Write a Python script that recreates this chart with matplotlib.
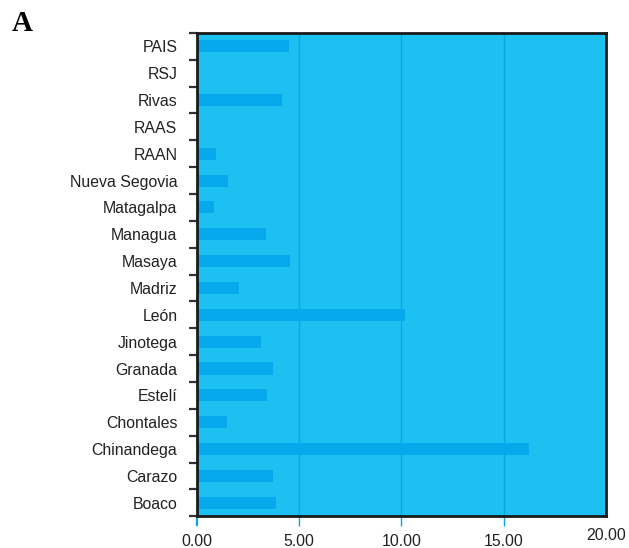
import numpy as np
import matplotlib.pyplot as plt
from matplotlib.ticker import FixedLocator

# departments, top to bottom
departments = ['PAIS', 'RSJ', 'Rivas', 'RAAS', 'RAAN', 'Nueva Segovia',
               'Matagalpa', 'Managua', 'Masaya', 'Madriz', 'León', 'Jinotega',
               'Granada', 'Estelí', 'Chontales', 'Chinandega', 'Carazo', 'Boaco']
values = [4.50, 0.0, 4.15, 0.0, 0.93, 1.50,
          0.83, 3.37, 4.55, 2.05, 10.17, 3.13,
          3.72, 3.42, 1.47, 16.23, 3.72, 3.86]
x_ticks = [0, 5, 10, 15, 20]
x_ticklabels = ['0.00', '5.00', '10.00', '15.00', '20.00']

bg = '#1cc1f2'
bar_col = '#05a9ec'
grid_col = '#0aa6e6'

plt.rcParams['font.family'] = ['Liberation Sans', 'DejaVu Sans']

fig = plt.figure(figsize=(6.29, 5.48), dpi=100)
ax = fig.add_axes([0.313, 0.058, 0.650, 0.882])
ax.set_facecolor(bg)

n = len(departments)
ypos = np.arange(n)[::-1]
ax.barh(ypos, values, height=0.45, color=bar_col, zorder=3)

ax.set_xlim(0, 20)
ax.set_ylim(-0.5, n - 0.5)

for xv in x_ticks[1:-1]:
    ax.axvline(xv, color=grid_col, lw=1, zorder=1)

# category labels in the middle, tick marks on the boundaries
ax.set_yticks(ypos)
ax.set_yticklabels(departments, fontsize=11.4, color='#222222')
ax.tick_params(axis='y', which='major', length=0, pad=14)
ax.yaxis.set_minor_locator(FixedLocator(np.arange(-0.5, n, 1.0)))
ax.tick_params(axis='y', which='minor', length=6, width=1.6, color='#333333')

ax.set_xticks(x_ticks)
ax.set_xticklabels(x_ticklabels, fontsize=11.4, color='#222222')
ax.tick_params(axis='x', length=7, width=1, color=grid_col, pad=5.5)
xt = ax.xaxis.get_major_ticks()
xt[0].tick1line.set_color('#333333')
xt[0].tick1line.set_markeredgewidth(1.6)
xt[-1].tick1line.set_visible(False)
xt[-1].label1.set_y(0.012)

for s in ax.spines.values():
    s.set_linewidth(2)
    s.set_color('#1a1a1a')
    s.set_zorder(5)

fig.text(0.018, 0.958, 'A', fontsize=21, fontweight='bold',
         family='Liberation Serif', va='center', ha='left')

fig.savefig('out.png', dpi=100)
